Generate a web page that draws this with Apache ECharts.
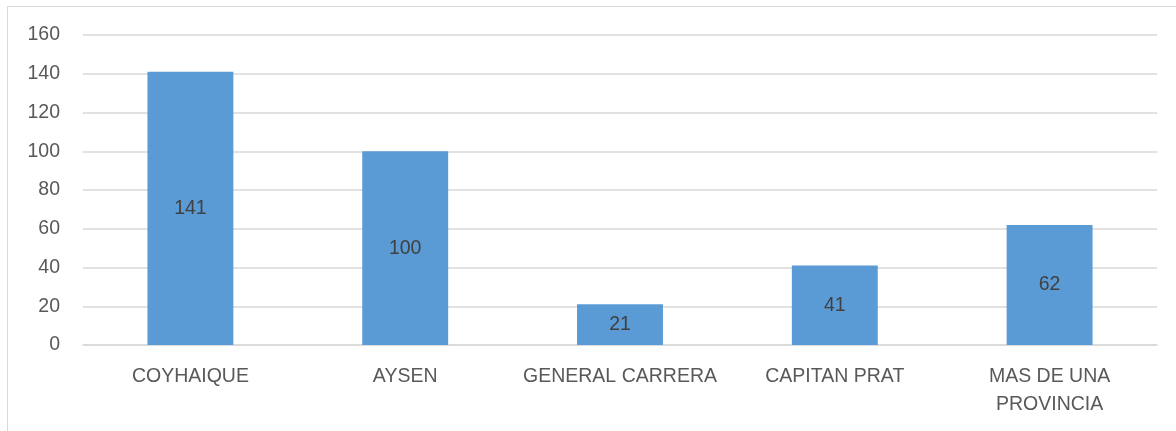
<!DOCTYPE html>
<html>
<head>
<meta charset="utf-8">
<script src="https://cdn.jsdelivr.net/npm/echarts@6/dist/echarts.min.js"></script>
<style>
  html, body { margin: 0; padding: 0; background: #fff; }
  #wrap { position: relative; width: 1176px; height: 431px; overflow: hidden; }
  #frame { position: absolute; left: 7px; top: 6px; width: 1200px; height: 460px; border: 1px solid #d9d9d9; }
  #main { position: absolute; left: 0; top: 0; width: 1176px; height: 431px; }
</style>
</head>
<body>
<div id="wrap">
  <div id="frame"></div>
  <div id="main"></div>
</div>
<script>
var categories = ["COYHAIQUE", "AYSEN", "GENERAL CARRERA", "CAPITAN PRAT", "MAS DE UNA\nPROVINCIA"];
var values = [141, 100, 21, 41, 62];
var yTicks = { min: 0, max: 160, step: 20 };

var myChart = echarts.init(document.getElementById("main"));
myChart.setOption({
  animation: false,
  textStyle: { fontFamily: "Liberation Sans" },
  grid: { left: 83, right: 19, top: 35, bottom: 86, containLabel: false },
  xAxis: {
    type: "category",
    data: categories,
    axisLine: { lineStyle: { color: "#d9d9d9", width: 1.5 } },
    axisTick: { show: false },
    axisLabel: { color: "#595959", fontSize: 19.5, margin: 18, lineHeight: 28, interval: 0 }
  },
  yAxis: {
    type: "value",
    min: yTicks.min,
    max: yTicks.max,
    interval: yTicks.step,
    axisLine: { show: false },
    axisTick: { show: false },
    axisLabel: { color: "#595959", fontSize: 19.5, margin: 23 },
    splitLine: { lineStyle: { color: "#d9d9d9", width: 1.5 } }
  },
  series: [
    {
      type: "bar",
      data: values,
      barWidth: "40%",
      itemStyle: { color: "#5b9bd5" },
      label: { show: true, position: "inside", color: "#404040", fontSize: 19.5 }
    }
  ]
});
</script>
</body>
</html>
